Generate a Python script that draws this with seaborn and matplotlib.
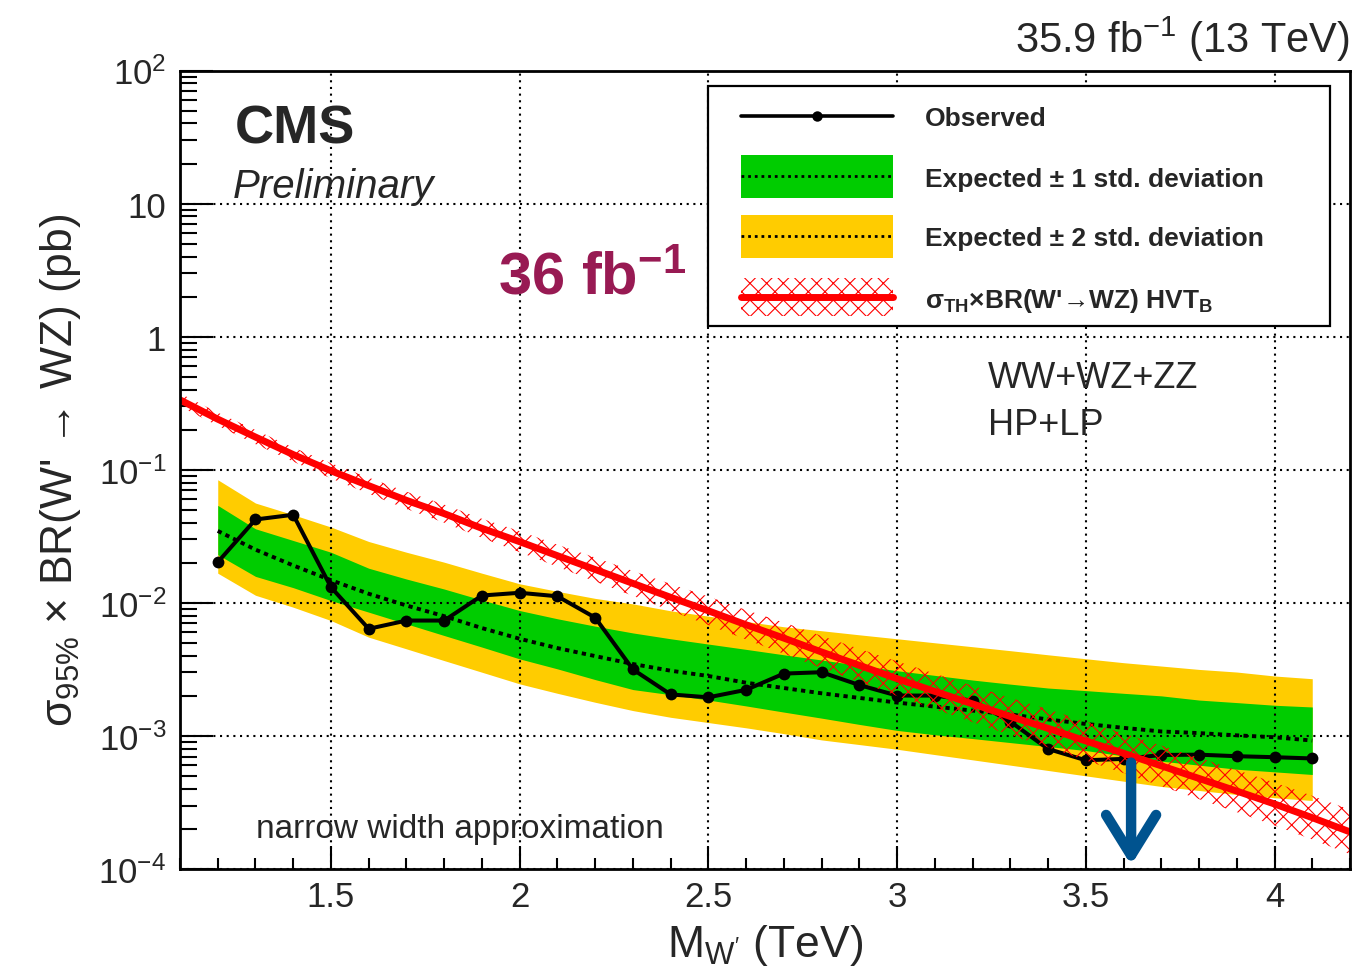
import matplotlib
matplotlib.use("Agg")
import matplotlib.pyplot as plt
import seaborn as sns
from matplotlib.patches import Rectangle
from matplotlib.lines import Line2D
from matplotlib.ticker import FixedLocator, FixedFormatter, LogLocator, NullFormatter, MultipleLocator

# ---------------------------------------------------------------- data (pb)
mass = [1.2, 1.3, 1.4, 1.5, 1.6, 1.7, 1.8, 1.9, 2.0, 2.1,
        2.2, 2.3, 2.4, 2.5, 2.6, 2.7, 2.8, 2.9, 3.0, 3.1,
        3.2, 3.3, 3.4, 3.5, 3.6, 3.7, 3.8, 3.9, 4.0, 4.1]

observed = [0.0202, 0.0423, 0.0459, 0.0131, 0.00638, 0.00736, 0.00736, 0.01135, 0.0119, 0.0112,
            0.00774, 0.00316, 0.00205, 0.00195, 0.00222, 0.00294, 0.00301, 0.00241, 0.00201, 0.00201,
            0.00184, 0.00128, 0.000798, 0.000656, 0.000672, 0.000719, 0.000723, 0.000704, 0.000692, 0.000677]

expected = [0.0347, 0.0251, 0.0191, 0.0148, 0.0117, 0.00955, 0.00794, 0.00646, 0.00537, 0.00457,
            0.00398, 0.00347, 0.00309, 0.00282, 0.00251, 0.00229, 0.00209, 0.00193, 0.00178, 0.00166,
            0.00155, 0.00145, 0.00133, 0.00123, 0.00115, 0.00108, 0.00105, 0.00101, 0.000977, 0.000923]

exp_1sd_up = [0.0540, 0.0360, 0.0294, 0.0240, 0.0182, 0.0151, 0.0127, 0.0105, 0.00875, 0.00759,
              0.00668, 0.00594, 0.00537, 0.00490, 0.00447, 0.00407, 0.00372, 0.00339, 0.00309, 0.00285,
              0.00263, 0.00245, 0.00229, 0.00219, 0.00209, 0.00200, 0.00186, 0.00178, 0.00170, 0.00165]

exp_1sd_down = [0.0230, 0.0158, 0.0130, 0.0104, 0.00851, 0.00695, 0.00568, 0.00465, 0.00379, 0.00319,
                0.00265, 0.00223, 0.00204, 0.00186, 0.00168, 0.00151, 0.00136, 0.00122, 0.00110, 0.00102,
                0.000955, 0.000891, 0.000832, 0.000776, 0.000708, 0.000646, 0.000603, 0.000562, 0.000537, 0.000513]

exp_2sd_up = [0.0841, 0.0562, 0.0459, 0.0371, 0.0289, 0.0240, 0.0202, 0.0167, 0.0139, 0.0122,
              0.0108, 0.00982, 0.00871, 0.00794, 0.00724, 0.00661, 0.00617, 0.00575, 0.00537, 0.00501,
              0.00468, 0.00437, 0.00407, 0.00380, 0.00355, 0.00335, 0.00316, 0.00302, 0.00282, 0.00269]

exp_2sd_down = [0.0167, 0.0114, 0.00927, 0.00736, 0.00552, 0.00451, 0.00368, 0.00301, 0.00246, 0.00209,
                0.00179, 0.00155, 0.00138, 0.00126, 0.00115, 0.00104, 0.000933, 0.000861, 0.000794, 0.000724,
                0.000661, 0.000603, 0.000550, 0.000501, 0.000457, 0.000417, 0.000389, 0.000363, 0.000343, 0.000327]

theory_mass = [1.1, 1.2, 1.3, 1.4, 1.5, 1.6, 1.7, 1.8, 1.9, 2.0, 2.1,
               2.2, 2.3, 2.4, 2.5, 2.6, 2.7, 2.8, 2.9, 3.0, 3.1,
               3.2, 3.3, 3.4, 3.5, 3.6, 3.7, 3.8, 3.9, 4.0, 4.1, 4.2]

theory_xsec = [0.335, 0.240, 0.176, 0.130, 0.0982, 0.0759, 0.0589, 0.0468, 0.0363, 0.0288, 0.0226,
               0.0178, 0.0140, 0.0110, 0.00871, 0.00684, 0.00543, 0.00427, 0.00339, 0.00269, 0.00216,
               0.00174, 0.00140, 0.00114, 0.000916, 0.000741, 0.000596, 0.000479, 0.000385, 0.000308,
               0.000243, 0.000190]

# multiplicative theory uncertainty (band spans xsec/f .. xsec*f)
theory_unc_factor = [1.12, 1.12, 1.13, 1.13, 1.14, 1.15, 1.16, 1.17, 1.18, 1.20, 1.21,
                     1.23, 1.24, 1.26, 1.28, 1.29, 1.31, 1.32, 1.33, 1.35, 1.36,
                     1.37, 1.38, 1.39, 1.40, 1.41, 1.42, 1.43, 1.44, 1.45, 1.46, 1.47]

limit_mass = 3.62
limit_xsec = 0.00063
arrow_tip = 1.07e-4

x_major_ticks = [1.5, 2.0, 2.5, 3.0, 3.5, 4.0]
x_tick_labels = ["1.5", "2", "2.5", "3", "3.5", "4"]
y_major_ticks = [1e-4, 1e-3, 1e-2, 1e-1, 1, 10, 100]
y_tick_labels = [r"$10^{-4}$", r"$10^{-3}$", r"$10^{-2}$", r"$10^{-1}$", "1", "10", r"$10^{2}$"]

legend_labels = ["Observed",
                 "Expected \u00b1 1 std. deviation",
                 "Expected \u00b1 2 std. deviation",
                 "\u03c3$_{\\mathbf{TH}}$\u00d7BR(W'\u2192WZ) HVT$_{\\mathbf{B}}$"]

# ---------------------------------------------------------------- style
GREEN = "#00cc00"
YELLOW = "#ffcc00"
RED = "#ff0000"
BLUE = "#00538f"
MAROON = "#981a53"

sns.set_theme(style="ticks")
plt.rcParams["font.family"] = ["Liberation Sans", "DejaVu Sans"]
plt.rcParams["mathtext.fontset"] = "custom"
plt.rcParams["mathtext.rm"] = "Liberation Sans"
plt.rcParams["mathtext.it"] = "Liberation Sans:italic"
plt.rcParams["mathtext.bf"] = "Liberation Sans:bold"
plt.rcParams["mathtext.sf"] = "Liberation Sans"
plt.rcParams["hatch.linewidth"] = 0.8
plt.rcParams["axes.unicode_minus"] = True

W, H = 1370, 978
fig = plt.figure(figsize=(W / 100, H / 100), dpi=100)
fig.patch.set_facecolor("white")

AX_L, AX_R, AX_T, AX_B = 180, 1350, 71.5, 870
ax = fig.add_axes([AX_L / W, 1 - AX_B / H, (AX_R - AX_L) / W, (AX_B - AX_T) / H])
ax.set_facecolor("white")
ax.set_yscale("log")


def fx(x):
    return x / W


def fy(y):
    return 1 - y / H


# ---------------------------------------------------------------- expected bands
ax.fill_between(mass, exp_2sd_down, exp_2sd_up, color=YELLOW, lw=0, zorder=1.0)
ax.fill_between(mass, exp_1sd_down, exp_1sd_up, color=GREEN, lw=0, zorder=1.1)
sns.lineplot(x=mass, y=expected, ax=ax, color="black", lw=2.8,
             linestyle=(0, (1.1, 1.1)), zorder=2.6)

# ---------------------------------------------------------------- observed
sns.lineplot(x=mass, y=observed, ax=ax, color="black", lw=2.9, marker="o",
             markersize=8.5, markeredgewidth=0, zorder=2.7)

# ---------------------------------------------------------------- theory
th_lo = [s / f for s, f in zip(theory_xsec, theory_unc_factor)]
th_hi = [s * f for s, f in zip(theory_xsec, theory_unc_factor)]
ax.fill_between(theory_mass, th_lo, th_hi, facecolor="none", edgecolor=RED,
                hatch="xx", lw=0, zorder=2.8)
sns.lineplot(x=theory_mass, y=theory_xsec, ax=ax, color=RED, lw=5, zorder=2.9)

# ---------------------------------------------------------------- mass limit arrow
ax.annotate("", xy=(limit_mass, arrow_tip), xytext=(limit_mass, limit_xsec),
            arrowprops=dict(arrowstyle="->,head_length=2.9,head_width=1.8",
                            color=BLUE, lw=7.5, shrinkA=0, shrinkB=0,
                            mutation_scale=10),
            zorder=3.5, annotation_clip=False)

# ---------------------------------------------------------------- axes
ax.set_xlim(1.1, 4.2)
ax.set_ylim(1e-4, 1e2)
ax.set_xticks(x_major_ticks)
ax.set_xticklabels(x_tick_labels)
ax.xaxis.set_minor_locator(MultipleLocator(0.1))
ax.yaxis.set_major_locator(FixedLocator(y_major_ticks))
ax.yaxis.set_major_formatter(FixedFormatter(y_tick_labels))
ax.yaxis.set_minor_locator(LogLocator(base=10, subs=range(2, 10), numticks=30))
ax.yaxis.set_minor_formatter(NullFormatter())

ax.set_axisbelow(False)
ax.grid(True, which="major", color="black", linestyle=(0, (1, 2.2)), linewidth=1.5)

ax.tick_params(axis="both", which="both", direction="in", color="black",
               top=False, right=False)
ax.tick_params(axis="y", which="major", length=24, width=1.5, pad=10, labelsize=25)
ax.tick_params(axis="y", which="minor", length=12, width=1.5)
ax.tick_params(axis="x", which="major", length=16.5, width=1.5, pad=8, labelsize=25)
ax.tick_params(axis="x", which="minor", length=8, width=1.5)
for sp in ax.spines.values():
    sp.set_linewidth(2)
    sp.set_color("black")
    sp.set_zorder(4)

ax.set_xlabel(r"M$_{\mathrm{W'}}$ (TeV)", fontsize=32)
ax.xaxis.set_label_coords(0.5, -0.066)
ax.set_ylabel("\u03c3$_{95\\%}$ \u00d7 BR(W' \u2192 WZ) (pb)", fontsize=32)
ax.yaxis.set_label_coords(-0.083, 0.5)

# ---------------------------------------------------------------- labels
fig.text(fx(1350), fy(53), r"35.9 fb$^{-1}$ (13 TeV)", ha="right", va="baseline", fontsize=30)
fig.text(fx(235), fy(144), "CMS", fontsize=39, fontweight="bold", va="baseline")
fig.text(fx(233), fy(198), "Preliminary", fontsize=29, style="italic", va="baseline")
fig.text(fx(498), fy(295), r"36 fb$^{\mathbf{-1}}$", fontsize=43, fontweight="bold",
         color=MAROON, va="baseline")
fig.text(fx(988), fy(388), "WW+WZ+ZZ", fontsize=26, va="baseline")
fig.text(fx(988), fy(435), "HP+LP", fontsize=26, va="baseline")
fig.text(fx(256), fy(838), "narrow width approximation", fontsize=24, va="baseline")

# ---------------------------------------------------------------- legend
LX0, LX1, LY0, LY1 = 708, 1330, 87, 327
fig.add_artist(Rectangle((fx(LX0), fy(LY1)), fx(LX1 - LX0), (LY1 - LY0) / H,
                         transform=fig.transFigure, facecolor="white",
                         edgecolor="black", lw=1.6, zorder=5))
HX0, HX1 = 741, 893
rows = [117, 177, 237, 298]

# observed entry
fig.add_artist(Line2D([fx(HX0), fx(HX1)], [fy(rows[0])] * 2, transform=fig.transFigure,
                      color="black", lw=2.6, zorder=6))
fig.add_artist(Line2D([fx((HX0 + HX1) / 2)], [fy(rows[0])], transform=fig.transFigure,
                      color="black", marker="o", markersize=7.5, markeredgewidth=0, zorder=6))
# band entries
for row, col in [(rows[1], GREEN), (rows[2], YELLOW)]:
    fig.add_artist(Rectangle((fx(HX0), fy(row + 21.5)), fx(HX1 - HX0), 43 / H,
                             transform=fig.transFigure, facecolor=col, lw=0, zorder=6))
    fig.add_artist(Line2D([fx(HX0), fx(HX1)], [fy(row)] * 2, transform=fig.transFigure,
                          color="black", lw=2.0, linestyle=(0, (1, 1.4)), zorder=6.5))
# theory entry
fig.add_artist(Rectangle((fx(HX0), fy(rows[3] + 19)), fx(HX1 - HX0), 38 / H,
                         transform=fig.transFigure, facecolor="none", edgecolor=RED,
                         hatch="xx", lw=0, zorder=6))
fig.add_artist(Line2D([fx(HX0), fx(HX1)], [fy(rows[3])] * 2, transform=fig.transFigure,
                      color=RED, lw=5, zorder=6.5))

for row, lab in zip(rows, legend_labels):
    fig.text(fx(925), fy(row), lab, fontsize=19, fontweight="bold",
             va="center_baseline", ha="left", zorder=7)

fig.savefig("out.png", dpi=100, facecolor="white")
